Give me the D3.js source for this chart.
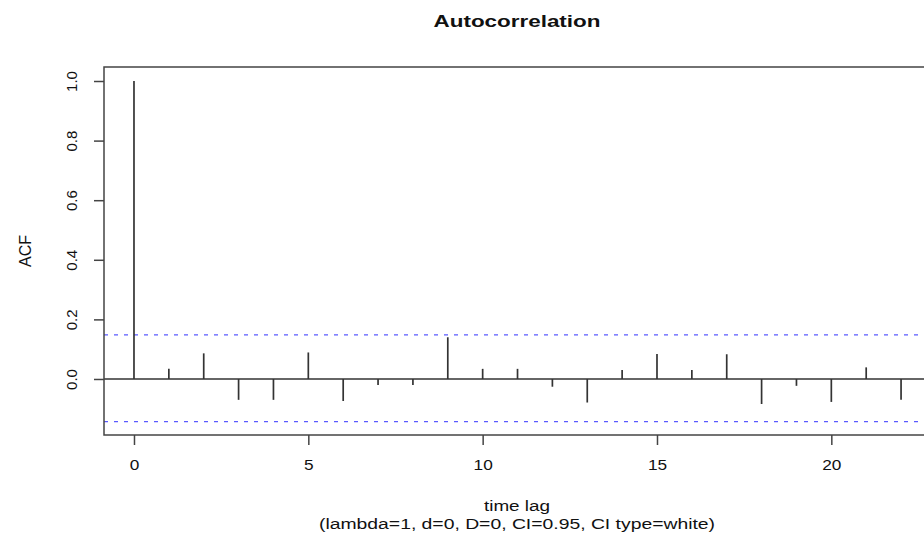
<!DOCTYPE html>
<html>
<head>
<meta charset="utf-8">
<script src="https://cdn.jsdelivr.net/npm/d3@7"></script>
<style>
  body { margin: 0; background: #fff; overflow: hidden; }
  text { font-family: "Liberation Sans", Arial, sans-serif; fill: #111; }
</style>
</head>
<body>
<svg id="lienzo" width="924" height="536"></svg>
<script>
// valores
const lags = [0, 1, 2, 3, 4, 5, 6, 7, 8, 9, 10, 11, 12, 13, 14, 15, 16, 17, 18, 19, 20, 21, 22];
const acf = [1.0, 0.034, 0.086, -0.070, -0.070, 0.089, -0.074, -0.020, -0.020, 0.140, 0.034, 0.034,
             -0.026, -0.079, 0.030, 0.084, 0.030, 0.083, -0.084, -0.023, -0.077, 0.039, -0.070];
const ciBands = [0.148, -0.143];
const xTicks = [0, 5, 10, 15, 20];
const yTicks = [0.0, 0.2, 0.4, 0.6, 0.8, 1.0];

const svg = d3.select('#lienzo');

// caja del grafico (el borde derecho queda fuera de la ventana)
const boxLeft = 104, boxRight = 930, boxTop = 67, boxBottom = 435;
const centroX = (boxLeft + boxRight) / 2;

const x = d3.scaleLinear().domain([-0.86, 22.83]).range([boxLeft, boxRight]);
const y = d3.scaleLinear().domain([-0.188, 1.047]).range([boxBottom, boxTop]);

// lineas de confianza
svg.selectAll('line.ci')
    .data(ciBands)
    .enter()
    .append('line')
    .attr('class', 'ci')
    .attr('x1', boxLeft)
    .attr('x2', boxRight)
    .attr('y1', d => y(d))
    .attr('y2', d => y(d))
    .attr('stroke', '#5a5aff')
    .attr('stroke-width', 1.3)
    .attr('stroke-dasharray', '4,6');

// linea del cero
svg.append('line')
    .attr('x1', boxLeft)
    .attr('x2', boxRight)
    .attr('y1', y(0))
    .attr('y2', y(0))
    .attr('stroke', '#333')
    .attr('stroke-width', 1.5);

// barras del ACF
svg.selectAll('line.bar')
    .data(lags)
    .enter()
    .append('line')
    .attr('class', 'bar')
    .attr('x1', d => x(d))
    .attr('x2', d => x(d))
    .attr('y1', y(0))
    .attr('y2', (d, i) => y(acf[i]))
    .attr('stroke', '#333')
    .attr('stroke-width', 1.7);

// caja
svg.append('rect')
    .attr('x', boxLeft)
    .attr('y', boxTop)
    .attr('width', boxRight - boxLeft)
    .attr('height', boxBottom - boxTop)
    .attr('fill', 'none')
    .attr('stroke', '#444')
    .attr('stroke-width', 1.5);

// eje x
const xAxis = svg.append('g')
    .attr('transform', `translate(0,${boxBottom})`)
    .call(d3.axisBottom(x).tickValues(xTicks).tickSize(10).tickPadding(14).tickFormat(d3.format('d')));
xAxis.select('.domain').remove();
xAxis.selectAll('line').attr('stroke', '#444').attr('stroke-width', 1.5);
xAxis.selectAll('text')
    .attr('font-size', '15px')
    .attr('font-family', '"Liberation Sans", Arial, sans-serif')
    .attr('fill', '#111')
    .attr('transform', 'scale(1.15,1)');

// eje y
const yAxis = svg.append('g')
    .attr('transform', `translate(${boxLeft},0)`)
    .call(d3.axisLeft(y).tickValues(yTicks).tickSize(10).tickFormat(d3.format('.1f')));
yAxis.select('.domain').remove();
yAxis.selectAll('line').attr('stroke', '#444').attr('stroke-width', 1.5);
yAxis.selectAll('text')
    .attr('font-size', '15px')
    .attr('font-family', '"Liberation Sans", Arial, sans-serif')
    .attr('fill', '#111')
    .attr('x', null)
    .attr('dy', null)
    .attr('text-anchor', 'middle')
    .attr('transform', 'translate(-27,0) rotate(-90)');

// titulos (el texto del original es mas ancho)
function texto(tx, ty, sx, size, contenido) {
    return svg.append('text')
        .attr('transform', `translate(${tx},${ty}) scale(${sx},1)`)
        .attr('text-anchor', 'middle')
        .attr('font-size', size)
        .text(contenido);
}

texto(centroX, 27, 1.32, '17px', 'Autocorrelation').attr('font-weight', 'bold');
texto(centroX, 511, 1.26, '15px', 'time lag');
texto(centroX, 529, 1.29, '15px', '(lambda=1, d=0, D=0, CI=0.95, CI type=white)');

svg.append('text')
    .attr('transform', `translate(31,${(boxTop + boxBottom) / 2}) rotate(-90)`)
    .attr('text-anchor', 'middle')
    .attr('font-size', '16px')
    .text('ACF');
</script>
</body>
</html>
